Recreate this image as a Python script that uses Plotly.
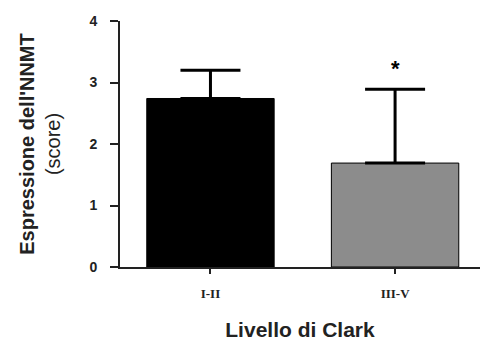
import plotly.graph_objects as go

categories = ["I-II", "III-V"]
means = [2.74, 1.69]
sd_upper = [0.46, 1.20]
bar_colors = ["#000000", "#8c8c8c"]
star_label = "*"
star_y = 3.22

fig = go.Figure()
fig.add_trace(go.Bar(
    x=categories, y=means,
    marker=dict(color=bar_colors, line=dict(color="#000000", width=1)),
    width=0.69,
    error_y=dict(type="data", array=sd_upper, arrayminus=[0, 0], symmetric=False,
                 color="#000000", thickness=3, width=30),
))
fig.add_annotation(x=categories[1], y=star_y, text="<b>" + star_label + "</b>", showarrow=False,
                   font=dict(family="Arial", size=22, color="#000"), yanchor="middle")

fig.update_layout(
    width=488, height=347,
    margin=dict(l=120, r=8, t=21, b=80),
    plot_bgcolor="white", paper_bgcolor="white",
    showlegend=False,
    xaxis=dict(
        type="category", range=[-0.49, 1.46],
        showline=True, linecolor="#222", linewidth=2,
        ticks="outside", ticklen=5, tickwidth=1.5, tickcolor="#222",
        ticklabelstandoff=8,
        tickfont=dict(family="Liberation Serif", size=13, color="#222"),
        tickvals=categories, ticktext=["<b>" + c + "</b>" for c in categories],
        title=dict(text="<b>Livello di Clark</b>", font=dict(family="Arial", size=21, color="#222"), standoff=23),
        showgrid=False, zeroline=False,
    ),
    yaxis=dict(
        range=[0, 4], tickvals=[0, 1, 2, 3, 4], ticktext=["<b>0</b>", "<b>1</b>", "<b>2</b>", "<b>3</b>", "<b>4</b>"],
        showline=True, linecolor="#222", linewidth=2,
        ticks="outside", ticklen=8, tickwidth=1.5, tickcolor="#222",
        ticklabelstandoff=10,
        tickfont=dict(family="Arial", size=14, color="#222"),
        title=dict(text="<b>Espressione dell'NNMT</b><br>(score)", font=dict(family="Arial", size=20, color="#222"), standoff=23),
        showgrid=False, zeroline=False,
    ),
)
fig.write_html("out.html")
